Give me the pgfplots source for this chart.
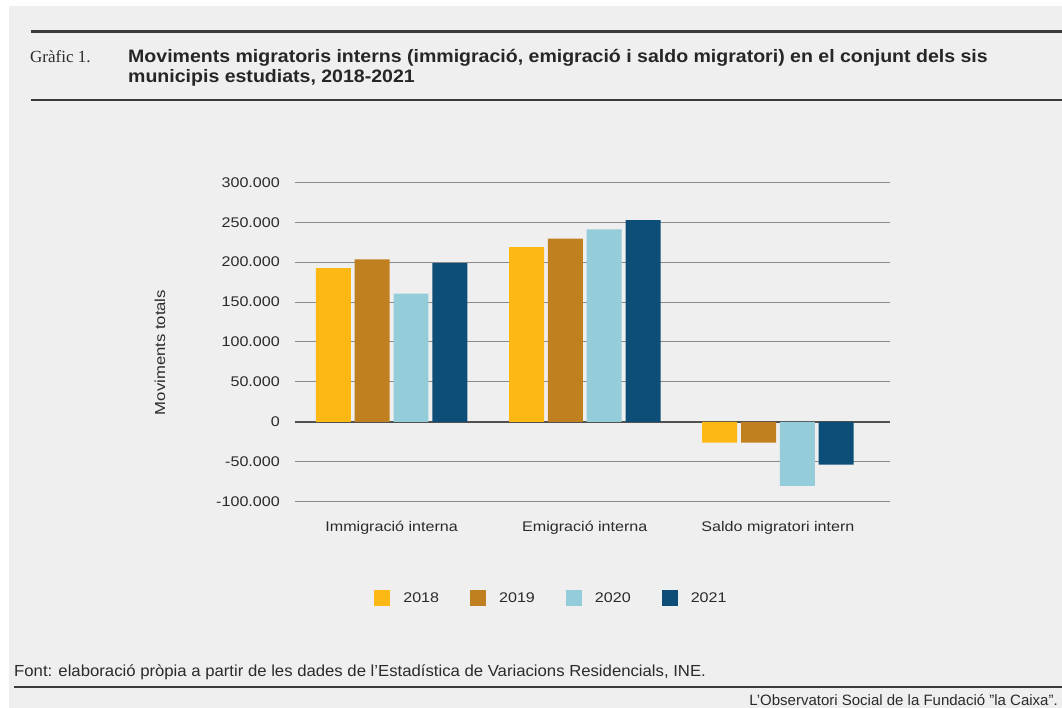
\documentclass[border=0pt]{standalone}
\usepackage{fontspec}
\usepackage{pgfplots}
\pgfplotsset{compat=1.18}
\setmainfont{Liberation Sans}
\newfontfamily\chartfont{Liberation Sans}[FakeStretch=1.15]
\newfontfamily\titlefont{Liberation Sans Bold}[FakeStretch=1.085]
\newfontfamily\footfont{Liberation Sans}[FakeStretch=1.045]
\newfontfamily\seriffont{Liberation Serif}

\definecolor{c2018}{HTML}{FDB813}
\definecolor{c2019}{HTML}{C1801F}
\definecolor{c2020}{HTML}{94CDD9}
\definecolor{c2021}{HTML}{0C4E77}
\definecolor{gridgray}{HTML}{8A8A8A}
\definecolor{zerogray}{HTML}{505050}
\definecolor{bggray}{HTML}{EFEFEF}
\definecolor{rulegray}{HTML}{3A3A3A}
\definecolor{textgray}{HTML}{2B2B2B}

\begin{document}
\begin{tikzpicture}[x=1pt,y=1pt]
  % page and background
  \path[use as bounding box, fill=white] (0,0) rectangle (1062,708);
  \fill[bggray] (9,0) rectangle (1062,702);

  % header
  \draw[rulegray, line width=2.5pt] (30.5,676.3) -- (1062,676.3);
  \draw[rulegray, line width=2.5pt] (30.5,608) -- (1062,608);
  \node[anchor=base west, inner sep=0pt, text=textgray,
        font=\seriffont\fontsize{17}{20}\selectfont] at (30,645) {Gràfic 1.};
  \node[anchor=base west, inner sep=0pt, text=black!85,
        font=\titlefont\fontsize{18}{20}\selectfont] at (128,645)
    {Moviments migratoris interns (immigració, emigració i saldo migratori) en el conjunt dels sis};
  \node[anchor=base west, inner sep=0pt, text=black!85,
        font=\titlefont\fontsize{18}{20}\selectfont] at (128,625)
    {municipis estudiats, 2018-2021};

  \begin{axis}[
    at={(295pt,206.3pt)}, anchor=south west,
    width=595pt, height=319.4pt, scale only axis,
    xmin=-0.5, xmax=2.58,
    ymin=-100000, ymax=300000,
    ytick={-100000,-50000,0,50000,100000,150000,200000,250000,300000},
    yticklabels={-100.000,-50.000,0,50.000,100.000,150.000,200.000,250.000,300.000},
    scaled y ticks=false,
    xtick={0,1,2},
    xticklabels={Immigració interna, Emigració interna, Saldo migratori intern},
    axis line style={draw=none},
    major tick length=0pt,
    ymajorgrids,
    grid style={color=gridgray, line width=1pt},
    extra y ticks={0},
    extra y tick labels={},
    extra y tick style={grid style={color=zerogray, line width=2pt}},
    ticklabel style={font=\chartfont\fontsize{14}{16}\selectfont, text=textgray},
    yticklabel style={inner sep=0pt, anchor=east, xshift=-15pt},
    xticklabel style={inner sep=0pt, anchor=base, yshift=-30pt},
    legend image code/.code={\draw[#1, draw=none] (0pt,-8pt) rectangle (16pt,8pt);},
    legend style={at={(0.431,-0.3015)}, anchor=center, draw=none, fill=none,
      legend columns=4, text=textgray,
      font=\chartfont\fontsize{14}{16}\selectfont,
      /tikz/every odd column/.append style={column sep=11pt},
      /tikz/every even column/.append style={column sep=29pt}},
  ]
    % immigracio, emigracio, saldo
    \addplot[ybar, bar width=0.181, bar shift=-0.3015, fill=c2018, draw=none]
      coordinates {(0,192600) (1,218700) (2,-26100)};
    \addlegendentry{2018}
    \addplot[ybar, bar width=0.181, bar shift=-0.1005, fill=c2019, draw=none]
      coordinates {(0,203500) (1,229600) (2,-26100)};
    \addlegendentry{2019}
    \addplot[ybar, bar width=0.181, bar shift=0.1005, fill=c2020, draw=none]
      coordinates {(0,160700) (1,241000) (2,-80300)};
    \addlegendentry{2020}
    \addplot[ybar, bar width=0.181, bar shift=0.3015, fill=c2021, draw=none]
      coordinates {(0,198800) (1,252500) (2,-53700)};
    \addlegendentry{2021}
  \end{axis}

  \node[rotate=90, inner sep=0pt, text=textgray,
        font=\chartfont\fontsize{14.5}{16}\selectfont] at (160,355.5) {Moviments totals};

  % footer
  \node[anchor=base west, inner sep=0pt, text=textgray,
        font=\footfont\fontsize{16}{18}\selectfont] at (14,31)
    {Font: elaboració pròpia a partir de les dades de l’Estadística de Variacions Residencials, INE.};
  \draw[rulegray, line width=2pt] (14,21) -- (1062,21);
  \node[anchor=base east, inner sep=0pt, text=textgray,
        font=\fontsize{15}{17}\selectfont] at (1058,2.5)
    {L’Observatori Social de la Fundació "la Caixa".};
\end{tikzpicture}
\end{document}
